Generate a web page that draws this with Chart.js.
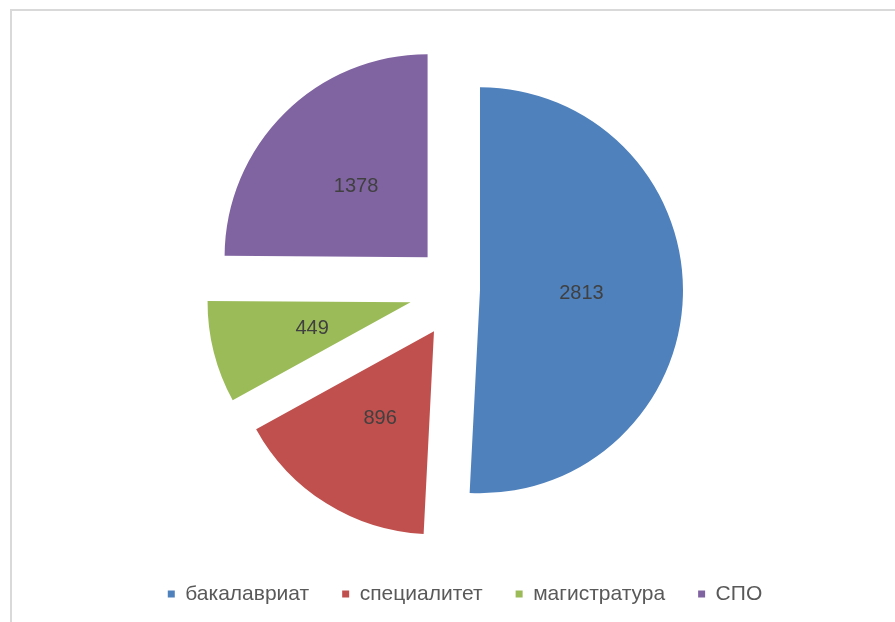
<!DOCTYPE html>
<html>
<head>
<meta charset="utf-8">
<script src="https://cdn.jsdelivr.net/npm/chart.js@4/dist/chart.umd.min.js"></script>
<style>
  html, body { margin: 0; padding: 0; background: #ffffff; }
  #wrap { position: relative; width: 895px; height: 622px; overflow: hidden; background: #fff; }
  #frame { position: absolute; left: 10px; top: 9px; width: 900px; height: 700px;
           border-left: 2px solid #d9d9d9; border-top: 2px solid #d9d9d9; box-sizing: border-box; }
  canvas { position: absolute; left: 0; top: 0; }
</style>
</head>
<body>
<div id="wrap">
  <div id="frame"></div>
  <canvas id="c" width="895" height="622"></canvas>
</div>
<script>
const categories = ["бакалавриат", "специалитет", "магистратура", "СПО"];
const values = [2813, 896, 449, 1378];
const colors = ["#4F81BD", "#C0504D", "#9BBB59", "#8064A2"];

// explosion distance of each slice (pixels), a style setting
const explode = [20, 49, 51, 46];
const pieShiftX = -5;
const pieShiftY = -1;

const explodePlugin = {
  id: 'explode',
  afterDatasetUpdate(chart, args) {
    const meta = args.meta;
    meta.data.forEach((arc, i) => {
      const mid = (arc.startAngle + arc.endAngle) / 2;
      const d = explode[i] || 0;
      arc.x += Math.cos(mid) * d + pieShiftX;
      arc.y += Math.sin(mid) * d + pieShiftY;
    });
  }
};

const labelPlugin = {
  id: 'valueLabels',
  afterDatasetsDraw(chart) {
    const ctx = chart.ctx;
    const meta = chart.getDatasetMeta(0);
    ctx.save();
    ctx.font = '20px "Liberation Sans", Arial, sans-serif';
    ctx.fillStyle = '#404040';
    ctx.textAlign = 'center';
    ctx.textBaseline = 'middle';
    meta.data.forEach((arc, i) => {
      const p = arc.getCenterPoint();
      ctx.fillText(String(chart.data.datasets[0].data[i]), p.x, p.y + 1);
    });
    ctx.restore();
  }
};

new Chart(document.getElementById('c'), {
  type: 'pie',
  data: {
    labels: categories,
    datasets: [{
      data: values,
      backgroundColor: colors,
      borderWidth: 0
    }]
  },
  options: {
    responsive: false,
    animation: false,
    radius: 203,
    layout: { padding: { left: 35, right: 0, top: 31, bottom: 7.4 } },
    plugins: {
      tooltip: { enabled: false },
      legend: {
        position: 'bottom',
        labels: {
          boxWidth: 7,
          boxHeight: 7,
          padding: 33,
          color: '#595959',
          font: { size: 21, family: '"Liberation Sans", Arial, sans-serif' }
        }
      }
    }
  },
  plugins: [explodePlugin, labelPlugin]
});
</script>
</body>
</html>
